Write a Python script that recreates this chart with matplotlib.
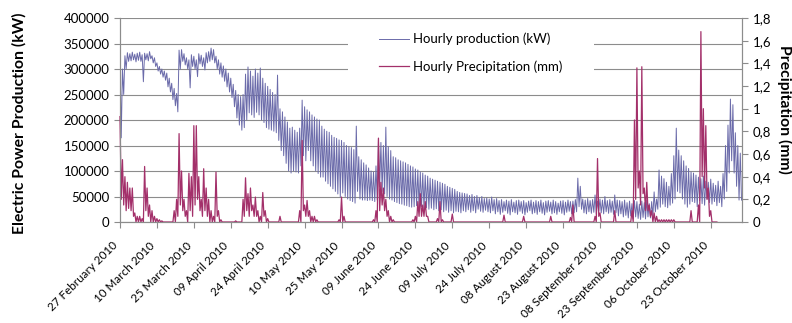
import numpy as np
import matplotlib.pyplot as plt
from matplotlib.transforms import ScaledTranslation

plt.rcParams['font.family'] = ['Lato', 'DejaVu Sans']

# Daily high / low of the hourly power production, thousand kW
prod_max = [
    331, 300, 326, 332, 330, 333, 329, 331, 333, 328,
    331, 330, 334, 326, 322, 312, 305, 300, 296, 292,
    282, 272, 262, 252, 337, 338, 330, 322, 318, 328,
    325, 318, 330, 327, 322, 332, 334, 341, 338, 325,
    318, 312, 306, 300, 292, 282, 270, 258, 250, 246,
    250, 290, 304, 296, 286, 300, 292, 302, 282, 272,
    266, 260, 254, 250, 288, 222, 216, 206, 196, 184,
    186, 180, 176, 184, 239, 226, 220, 216, 210, 206,
    202, 200, 188, 182, 178, 176, 170, 166, 164, 161,
    160, 156, 150, 148, 146, 142, 188, 128, 122, 116,
    112, 106, 100, 98, 110, 162, 156, 150, 186, 148,
    140, 128, 126, 122, 120, 118, 116, 113, 110, 108,
    104, 102, 98, 96, 92, 90, 86, 84, 82, 80,
    78, 76, 74, 70, 68, 66, 64, 60, 58, 57,
    56, 55, 52, 54, 50, 52, 48, 50, 46, 47,
    45, 49, 44, 46, 42, 44, 40, 43, 41, 44,
    39, 42, 43, 40, 42, 38, 41, 43, 39, 42,
    40, 43, 38, 41, 42, 39, 43, 40, 37, 41,
    42, 39, 43, 40, 41, 44, 86, 70, 45, 43,
    46, 42, 44, 53, 41, 45, 43, 50, 42, 44,
    41, 53, 43, 42, 40, 43, 38, 41, 36, 42,
    40, 35, 41, 38, 43, 36, 40, 59, 45, 102,
    90, 85, 78, 70, 95, 130, 184, 141, 130, 120,
    110, 105, 98, 96, 92, 88, 85, 90, 80, 78,
    84, 76, 72, 80, 70, 95, 150, 190, 241, 230,
    175, 150, 135,
]
prod_min = [
    165, 250, 300, 315, 316, 318, 314, 317, 315, 275,
    318, 316, 320, 312, 305, 296, 290, 284, 278, 265,
    255, 240, 228, 216, 300, 315, 308, 300, 263, 305,
    300, 285, 310, 305, 298, 312, 315, 318, 312, 300,
    290, 284, 276, 265, 255, 244, 226, 204, 190, 180,
    185, 200, 214, 210, 205, 215, 210, 200, 195, 185,
    182, 180, 178, 175, 160, 140, 130, 115, 100, 96,
    100, 98, 96, 110, 130, 120, 140, 120, 110, 100,
    95, 88, 88, 80, 75, 70, 65, 60, 55, 49,
    57, 50, 45, 42, 40, 37, 60, 45, 43, 43,
    42, 43, 42, 40, 43, 69, 60, 55, 50, 45,
    43, 40, 38, 36, 35, 33, 32, 30, 29, 30,
    32, 28, 30, 26, 28, 25, 27, 24, 26, 22,
    24, 20, 23, 19, 22, 18, 21, 20, 18, 22,
    20, 24, 19, 22, 18, 25, 21, 19, 23, 20,
    18, 22, 16, 20, 15, 19, 22, 17, 14, 20,
    18, 15, 21, 17, 14, 19, 22, 16, 18, 15,
    20, 17, 14, 19, 21, 16, 18, 15, 20, 17,
    14, 19, 21, 16, 18, 20, 30, 25, 18, 16,
    20, 17, 19, 15, 21, 18, 16, 20, 17, 19,
    15, 18, 12, 16, 10, 13, 8, 12, 6, 10,
    7, 5, 9, 6, 10, 8, 12, 20, 25, 29,
    35, 30, 28, 33, 37, 45, 60, 57, 45, 35,
    29, 35, 40, 38, 30, 42, 36, 33, 45, 38,
    35, 40, 32, 38, 30, 45, 60, 96, 120, 96,
    70, 43, 43,
]

# Daily high / low of the hourly precipitation, mm
rain_max = [
    0.93, 0.55, 0.40, 0.35, 0.30, 0.30, 0.08, 0.05, 0.05, 0.03,
    0.49, 0.30, 0.15, 0.10, 0.05, 0.03, 0.02, 0.01, 0, 0,
    0, 0, 0.10, 0.20, 0.78, 0.45, 0.20, 0.10, 0.43, 0.40,
    0.85, 0.85, 0.40, 0.20, 0.47, 0.30, 0.20, 0.10, 0.05, 0.44,
    0.10, 0.02, 0, 0, 0, 0, 0, 0.01, 0, 0,
    0.20, 0.39, 0.25, 0.30, 0.15, 0.22, 0.10, 0.05, 0.26, 0.10,
    0.03, 0, 0, 0, 0, 0.05, 0, 0, 0, 0,
    0, 0, 0, 0.10, 0.72, 0.15, 0.19, 0.10, 0.05, 0.05,
    0.02, 0, 0, 0, 0, 0, 0, 0, 0, 0.02,
    0.22, 0.05, 0, 0, 0, 0, 0, 0, 0, 0,
    0, 0, 0, 0.02, 0.10, 0.74, 0.35, 0.30, 0.20, 0.10,
    0.05, 0.02, 0, 0, 0, 0, 0, 0, 0, 0.02,
    0.05, 0.18, 0.25, 0.15, 0.18, 0.05, 0, 0, 0, 0.03,
    0.18, 0.02, 0, 0, 0, 0.07, 0, 0, 0, 0,
    0, 0, 0, 0, 0, 0, 0, 0, 0, 0,
    0, 0, 0, 0, 0, 0, 0.06, 0, 0, 0,
    0, 0, 0, 0, 0.05, 0, 0, 0, 0, 0,
    0, 0, 0, 0, 0, 0.05, 0, 0, 0, 0,
    0, 0, 0, 0.04, 0.15, 0, 0, 0, 0, 0,
    0, 0, 0, 0.05, 0.56, 0.08, 0, 0, 0, 0,
    0, 0.10, 0, 0, 0, 0, 0, 0, 0.10, 0.90,
    1.36, 0.45, 1.37, 0.30, 0.35, 0.15, 0.10, 0.08, 0.05, 0.02,
    0.02, 0.02, 0.02, 0.02, 0.02, 0.02, 0, 0, 0, 0,
    0, 0, 0.10, 0, 0, 0.15, 1.68, 1.00, 0.85, 0.30,
    0.10, 0, 0,
]
rain_min = [
    0.20, 0.15, 0.10, 0.12, 0.10, 0.05, 0, 0, 0, 0,
    0.10, 0.05, 0, 0, 0, 0, 0, 0, 0, 0,
    0, 0, 0, 0.05, 0.15, 0.10, 0.05, 0, 0.10, 0.05,
    0.15, 0.20, 0.10, 0.05, 0.10, 0.05, 0, 0, 0, 0.05,
    0, 0, 0, 0, 0, 0, 0, 0, 0, 0,
    0.05, 0.10, 0.05, 0.10, 0.05, 0.05, 0, 0, 0.05, 0,
    0, 0, 0, 0, 0, 0, 0, 0, 0, 0,
    0, 0, 0, 0, 0.10, 0.05, 0.05, 0, 0, 0,
    0, 0, 0, 0, 0, 0, 0, 0, 0, 0,
    0, 0, 0, 0, 0, 0, 0, 0, 0, 0,
    0, 0, 0, 0, 0, 0.10, 0.15, 0.10, 0.05, 0,
    0, 0, 0, 0, 0, 0, 0, 0, 0, 0,
    0, 0.05, 0.05, 0.05, 0.05, 0, 0, 0, 0, 0,
    0, 0, 0, 0, 0, 0, 0, 0, 0, 0,
    0, 0, 0, 0, 0, 0, 0, 0, 0, 0,
    0, 0, 0, 0, 0, 0, 0, 0, 0, 0,
    0, 0, 0, 0, 0, 0, 0, 0, 0, 0,
    0, 0, 0, 0, 0, 0, 0, 0, 0, 0,
    0, 0, 0, 0, 0, 0, 0, 0, 0, 0,
    0, 0, 0, 0, 0.05, 0, 0, 0, 0, 0,
    0, 0, 0, 0, 0, 0, 0, 0, 0, 0.20,
    0.30, 0.15, 0.25, 0.10, 0.10, 0.05, 0, 0, 0, 0,
    0, 0, 0, 0, 0, 0, 0, 0, 0, 0,
    0, 0, 0, 0, 0, 0, 0.40, 0.30, 0.20, 0.05,
    0, 0, 0,
]

tick_labels = [
    '27 February 2010', '10 March 2010', '25 March 2010', '09 April 2010',
    '24 April 2010', '10 May 2010', '25 May 2010', '09 June 2010',
    '24 June 2010', '09 July 2010', '24 July 2010', '08 August 2010',
    '23 August 2010', '08 September 2010', '23 September 2010',
    '06 October 2010', '23 October 2010',
]
rain_ticks = [0, 0.2, 0.4, 0.6, 0.8, 1.0, 1.2, 1.4, 1.6, 1.8]
rain_tick_labels = ['0', '0,2', '0,4', '0,6', '0,8', '1', '1,2', '1,4', '1,6', '1,8']


def zigzag(hi, lo):
    # day high at the start of each day, day low half a day later
    days = np.arange(len(hi))
    x = np.column_stack([days, days + 0.5]).ravel()
    y = np.column_stack([hi, lo]).ravel()
    return x, y


def main():
    blue = '#6b6baa'
    red = '#a3306a'
    grey = '#8c8c8c'

    fig = plt.figure(figsize=(7.92, 3.23), dpi=100)
    ax = fig.add_axes([120 / 792, 1 - 222 / 323, 622 / 792, 204 / 323])
    ax2 = ax.twinx()

    px, py = zigzag(np.array(prod_max) * 1000, np.array(prod_min) * 1000)
    rx, ry = zigzag(rain_max, rain_min)
    l1, = ax.plot(px, py, color=blue, lw=0.7, label='Hourly production (kW)')
    l2, = ax2.plot(rx, ry, color=red, lw=0.9, label='Hourly Precipitation (mm)',
                   clip_on=False)

    ax.set_xlim(0, 252.7)
    ax.set_ylim(0, 400000)
    ax.set_yticks(np.arange(0, 400001, 50000))
    ax.yaxis.grid(True, color=grey, lw=0.8)
    ax.set_axisbelow(True)
    ax2.set_ylim(0, 1.8)
    ax2.set_yticks(rain_ticks)
    ax2.set_yticklabels(rain_tick_labels)

    # date labels sit a little left of and below their ticks
    tick_pos = np.arange(len(tick_labels)) * 15
    ax.set_xticks(tick_pos)
    ax.set_xticklabels([])
    shift = ScaledTranslation(-0.08, -0.18, fig.dpi_scale_trans)
    for pos, lab in zip(tick_pos, tick_labels):
        ax.text(pos, 0, lab, transform=ax.get_xaxis_transform() + shift,
                rotation=45, rotation_mode='anchor', ha='right', va='top',
                fontsize=8.4)

    for a in (ax, ax2):
        a.spines['top'].set_visible(False)
        for s in ('left', 'right', 'bottom'):
            a.spines[s].set_color(grey)
        a.tick_params(colors=grey, labelcolor='black', labelsize=9.5, length=4)

    ax.set_ylabel('Electric Power Production (kW)', fontsize=11.3,
                  fontweight='bold')
    ax.yaxis.set_label_coords(-0.150, 0.485)
    ax2.set_ylabel('Precipitation (mm)', fontsize=11.3, fontweight='bold',
                   rotation=270, va='bottom')
    ax2.yaxis.set_label_coords(1.056, 0.55)

    leg = ax2.legend(handles=[l1, l2], loc='upper left',
                     bbox_to_anchor=(348 / 792, 1 - 25 / 323),
                     bbox_transform=fig.transFigure, frameon=True,
                     fancybox=False, facecolor='white', edgecolor='none',
                     framealpha=1, fontsize=9.5, handlelength=2.3,
                     handletextpad=0.3, labelspacing=1.1, borderpad=0.6,
                     borderaxespad=0)
    leg.set_zorder(10)
    # stretch the white legend box to cover the grid on the right side
    leg._legend_box.set_width(230)

    fig.savefig('out.png', dpi=100)
    plt.close(fig)


if __name__ == '__main__':
    main()
